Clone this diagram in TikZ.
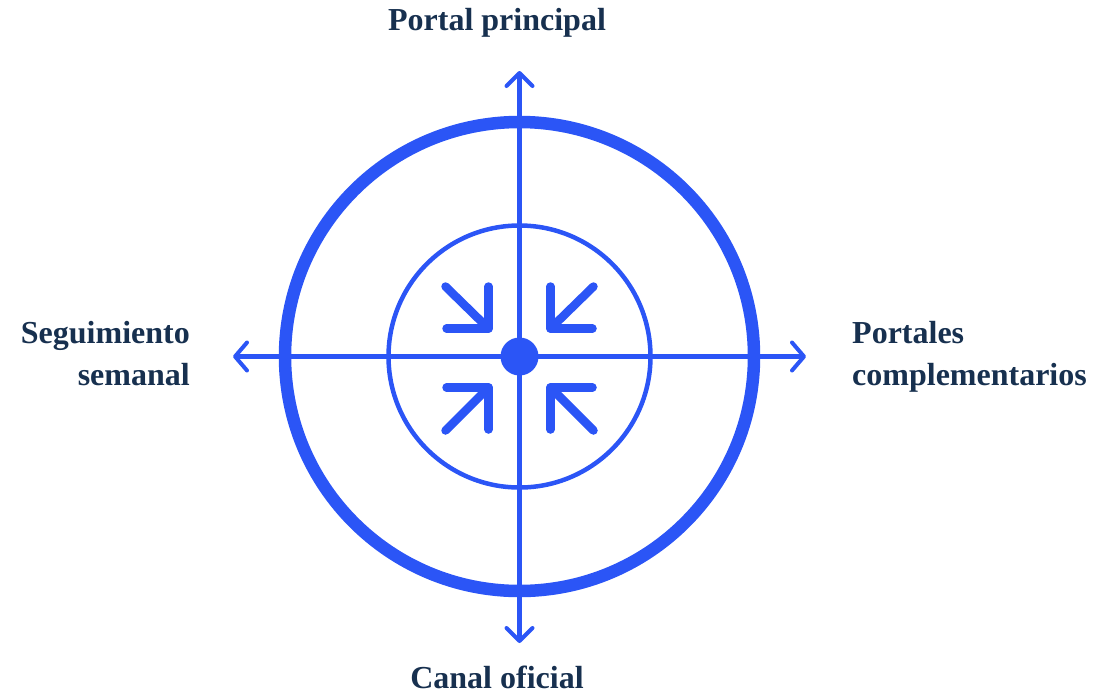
\documentclass[tikz,border=0pt]{standalone}
\usepackage{fontspec}
\setmainfont{Liberation Serif}
\definecolor{accent}{HTML}{2B55F6}
\definecolor{ink}{HTML}{17304F}
\begin{document}
\begin{tikzpicture}[x=1pt,y=-1pt,
  axisline/.style={draw=accent, line width=4.5pt},
  chev/.style={draw=accent, line width=4pt, line cap=round, line join=round},
  inarrow/.style={draw=accent, line width=8.5pt, line cap=round, line join=round},
  lbl/.style={text=ink, font=\fontsize{32}{42}\selectfont\bfseries, inner sep=0pt}]
\useasboundingbox (0,0) rectangle (1099,694);
\coordinate (c) at (519.5,356.5);
% circles
\node[circle, draw=accent, line width=12.5pt, minimum size=469pt, inner sep=0pt] (outer) at (c) {};
\node[circle, draw=accent, line width=4.5pt, minimum size=262pt, inner sep=0pt] (inner) at (c) {};
% axes
\coordinate (top) at (519.5,73);
\coordinate (bot) at (519.5,641);
\coordinate (lft) at (235,356.5);
\coordinate (rgt) at (804,356.5);
\draw[axisline] (top) -- (bot);
\draw[axisline] (lft) -- (rgt);
\draw[chev] ([shift={(-13,13)}]top) -- (top) -- ([shift={(13,13)}]top);
\draw[chev] ([shift={(-13,-13)}]bot) -- (bot) -- ([shift={(13,-13)}]bot);
\draw[chev] ([shift={(12,-14)}]lft) -- (lft) -- ([shift={(12,14)}]lft);
\draw[chev] ([shift={(-12,-14)}]rgt) -- (rgt) -- ([shift={(-12,14)}]rgt);
% center dot
\node[circle, fill=accent, minimum size=38pt, inner sep=0pt] (dot) at (c) {};
% inward arrows
\coordinate (tl) at ([shift={(-31,-28)}]c);
\coordinate (tr) at ([shift={(31,-28)}]c);
\coordinate (bl) at ([shift={(-31,31)}]c);
\coordinate (br) at ([shift={(31,31)}]c);
\draw[inarrow] ([shift={(-43,-42)}]tl) -- (tl);
\draw[inarrow] ([shift={(0,-42)}]tl) -- (tl) -- ([shift={(-42,0)}]tl);
\draw[inarrow] ([shift={(43,-42)}]tr) -- (tr);
\draw[inarrow] ([shift={(0,-42)}]tr) -- (tr) -- ([shift={(42,0)}]tr);
\draw[inarrow] ([shift={(-43,43)}]bl) -- (bl);
\draw[inarrow] ([shift={(0,42)}]bl) -- (bl) -- ([shift={(-42,0)}]bl);
\draw[inarrow] ([shift={(43,43)}]br) -- (br);
\draw[inarrow] ([shift={(0,42)}]br) -- (br) -- ([shift={(42,0)}]br);
% labels
\node[lbl, anchor=base] (ltop) at (497,30) {Portal principal};
\node[lbl, anchor=base] (lbot) at (497,688) {Canal oficial};
\node[lbl, anchor=base east, align=right] (lleft) at (190,385) {Seguimiento\\semanal};
\node[lbl, anchor=base west, align=left] (lright) at (852,385) {Portales\\complementarios};
\end{tikzpicture}
\end{document}
